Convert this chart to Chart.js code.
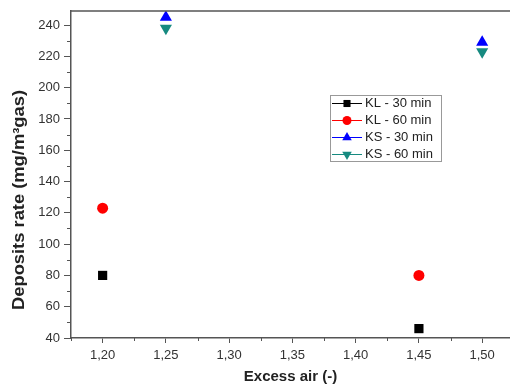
<html>
<head>
    <meta charset="utf-8" />
    <title>Deposits rate</title>
    <script src="https://cdn.jsdelivr.net/npm/chart.js@4.4.1/dist/chart.umd.min.js"></script>
    <style>
        html, body { margin: 0; background: #fff; overflow: hidden; }
        /* a figura original é cortada à direita */
        #wrap { width: 517px; height: 390px; }
    </style>
</head>
<body>
    <div id="wrap"><canvas id="grafico"></canvas></div>
    <script>
        // dados
        const series = ['KL - 30 min', 'KL - 60 min', 'KS - 30 min', 'KS - 60 min'];
        const excessoAr = [
            [1.20, 1.45],
            [1.20, 1.45],
            [1.25, 1.50],
            [1.25, 1.50]
        ];
        const taxaDepositos = [
            [80, 46],
            [123, 80],
            [245, 229],
            [238, 223]
        ];
        const yTicks = [40, 60, 80, 100, 120, 140, 160, 180, 200, 220, 240];
        const xTicks = [1.20, 1.25, 1.30, 1.35, 1.40, 1.45, 1.50];

        const cores = ['#000000', '#ff0000', '#0000ff', '#168a80'];
        const estilos = ['rect', 'circle', 'triangle', 'triangle'];
        const rotacoes = [0, 0, 0, 180];
        const raios = [6.5, 5.5, 7, 7];
        const raiosLegenda = [5, 4.5, 5.5, 5.5];

        const fonte = 'Liberation Sans, Arial, sans-serif';
        const tituloY = 'Deposits rate (mg/m³gas)';

        let datasets = [];
        for (let i = 0; i < series.length; i++) {
            datasets.push({
                label: series[i],
                data: excessoAr[i].map((x, j) => ({ x: x, y: taxaDepositos[i][j] })),
                backgroundColor: cores[i],
                borderColor: cores[i],
                pointStyle: estilos[i],
                rotation: rotacoes[i],
                pointRadius: raios[i],
                pointHoverRadius: raios[i],
                borderWidth: 0,
                showLine: false
            });
        }

        const moldura = {
            id: 'moldura',
            afterDraw(chart) {
                const ctx = chart.ctx;
                const a = chart.chartArea;
                const sx = chart.scales.x, sy = chart.scales.y;
                ctx.save();
                ctx.strokeStyle = '#555';
                ctx.lineWidth = 1.5;
                ctx.beginPath();
                ctx.moveTo(a.left, a.top);
                ctx.lineTo(a.right, a.top);
                ctx.stroke();

                // ticks menores
                ctx.lineWidth = 1;
                ctx.beginPath();
                for (let i = 0; i < yTicks.length - 1; i++) {
                    const p = Math.round(sy.getPixelForValue((yTicks[i] + yTicks[i + 1]) / 2)) + 0.5;
                    ctx.moveTo(a.left - 4, p);
                    ctx.lineTo(a.left, p);
                }
                let xm = [xTicks[0] - 0.025];
                for (let i = 0; i < xTicks.length; i++) xm.push(xTicks[i] + 0.025);
                xm.forEach(v => {
                    const p = Math.round(sx.getPixelForValue(v)) + 0.5;
                    if (p < a.left || p > a.right) return;
                    ctx.moveTo(p, a.bottom);
                    ctx.lineTo(p, a.bottom + 3);
                });
                ctx.stroke();

                // título do eixo y
                ctx.fillStyle = '#222';
                ctx.font = 'bold 16px ' + fonte;
                ctx.textAlign = 'center';
                ctx.textBaseline = 'middle';
                const larg = ctx.measureText(tituloY).width;
                ctx.save();
                ctx.translate(20, 200);
                ctx.rotate(-Math.PI / 2);
                ctx.scale(220 / larg, 1);
                ctx.fillText(tituloY, 0, 0);
                ctx.restore();

                // legenda dentro da área
                const lx = 330, ly = 95, lw = 111, lh = 66;
                ctx.strokeStyle = '#999';
                ctx.lineWidth = 1;
                ctx.fillStyle = '#fff';
                ctx.fillRect(lx, ly, lw, lh);
                ctx.strokeRect(lx + 0.5, ly + 0.5, lw, lh);
                ctx.font = '13px ' + fonte;
                ctx.textAlign = 'left';
                chart.data.datasets.forEach((ds, i) => {
                    const y = ly + 8.5 + i * 17;
                    ctx.strokeStyle = ds.borderColor;
                    ctx.lineWidth = 1;
                    ctx.beginPath();
                    ctx.moveTo(lx + 2, y);
                    ctx.lineTo(lx + 32, y);
                    ctx.stroke();
                    ctx.fillStyle = ds.backgroundColor;
                    Chart.helpers.drawPoint(ctx, {
                        pointStyle: ds.pointStyle,
                        rotation: ds.rotation,
                        radius: raiosLegenda[i],
                        borderWidth: 0
                    }, lx + 17, y);
                    ctx.fillStyle = '#222';
                    ctx.fillText(ds.label, lx + 35, y);
                });
                ctx.restore();
            }
        };

        new Chart(document.getElementById('grafico'), {
            type: 'scatter',
            data: { datasets: datasets },
            plugins: [moldura],
            options: {
                responsive: true,
                maintainAspectRatio: false,
                animation: false,
                layout: { padding: { top: 11, right: 0, left: 0, bottom: 0 } },
                plugins: {
                    legend: { display: false },
                    tooltip: { enabled: false }
                },
                scales: {
                    x: {
                        type: 'linear',
                        min: 1.175,
                        max: 1.522,
                        afterBuildTicks: s => { s.ticks = xTicks.map(v => ({ value: v })); },
                        afterFit: s => { s.height = 52; s.paddingRight = 0; s.paddingLeft = 0; },
                        border: { color: '#555', width: 1.5 },
                        grid: {
                            drawOnChartArea: false,
                            tickLength: 5,
                            tickColor: '#555'
                        },
                        ticks: {
                            color: '#333',
                            font: { family: fonte, size: 13 },
                            padding: 5,
                            callback: v => v.toFixed(2).replace('.', ',')
                        },
                        title: {
                            display: true,
                            text: 'Excess air (-)',
                            color: '#222',
                            font: { family: fonte, size: 15, weight: 'bold' },
                            padding: { top: 9 }
                        }
                    },
                    y: {
                        min: 40,
                        max: 249,
                        afterBuildTicks: s => { s.ticks = yTicks.map(v => ({ value: v })); },
                        afterFit: s => { s.width = 71; s.paddingTop = 0; },
                        border: { color: '#555', width: 1.5 },
                        grid: {
                            drawOnChartArea: false,
                            tickLength: 7,
                            tickColor: '#555'
                        },
                        ticks: {
                            color: '#333',
                            font: { family: fonte, size: 13 },
                            padding: 4
                        }
                    }
                }
            }
        });
    </script>
</body>
</html>
